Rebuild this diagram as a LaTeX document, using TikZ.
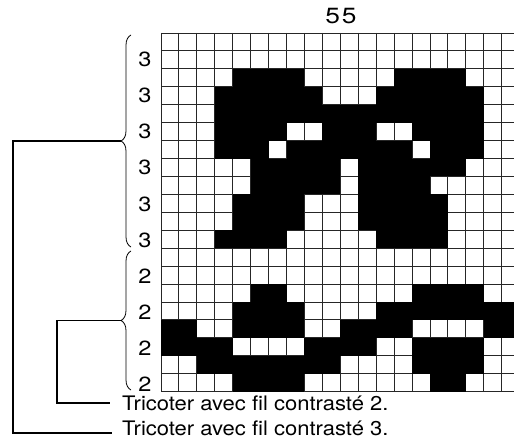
\documentclass[tikz,border=0pt]{standalone}
\usepackage{fontspec}
\setmainfont{TeX Gyre Heros}
\usetikzlibrary{decorations.pathreplacing}
\begin{document}
\begin{tikzpicture}[x=1pt,y=-1pt,
  gridline/.style={line width=0.9pt, black!85},
  cellfill/.style={fill=black},
  bracestyle/.style={decorate, decoration={brace, amplitude=10pt}, line width=0.8pt},
  leader/.style={line width=1.2pt},
  lbl/.style={font=\fontsize{20.5}{20.5}\selectfont, inner sep=0pt, anchor=base},
  txt/.style={font=\fontsize{20}{20}\selectfont, inner sep=0pt, anchor=base west}
]
\def\cs{17.93}
\useasboundingbox (0,0) rectangle (514,441);
\fill[white] (0,0) rectangle (514,441);
\begin{scope}
\clip (0,0) rectangle (514,441);
% grid lines
\foreach \i in {0,...,20}
  \draw[gridline] (161,{33+\i*\cs}) -- (520,{33+\i*\cs});
\foreach \j in {0,...,19}
  \draw[gridline] ({161+\j*\cs},33) -- ({161+\j*\cs},{33+20*\cs});
% black cells: row / {first/last column runs}
\foreach \r/\runs in {
  2/{4/7,13/16},
  3/{3/8,12/17},
  4/{3/17},
  5/{3/6,9/11,14/17},
  6/{3/5,7/13,15/17},
  7/{5/9,11/16},
  8/{5/9,11/14},
  9/{4/7,11/15},
  10/{4/7,11/15},
  11/{3/6,12/15},
  14/{5/6,14/17},
  15/{4/7,12/19},
  16/{0/1,4/7,10/13,18/19},
  17/{0/3,8/11,14/17},
  18/{2/9,14/17},
  19/{4/7,15/16}}{
  \foreach \a/\b in \runs {
    \fill[cellfill] ({161+\a*\cs},{33+\r*\cs}) rectangle ({161+(\b+1)*\cs},{33+(\r+1)*\cs});
  }
}
\end{scope}
% title
\node[lbl, font=\fontsize{22}{22}\selectfont] (title) at (341,24) {\scalebox{1.2}[1]{5\kern1.5pt5}};
% row labels
\foreach \k/\d in {0/3,1/3,2/3,3/3,4/3,5/3,6/2,7/2,8/2,9/2}
  \node[lbl] (n\k) at (145,{67+36*\k}) {\scalebox{1.15}[1]{\d}};
% braces
\draw[bracestyle] (131,247) -- (131,35);
\draw[bracestyle] (131,390) -- (131,251);
\coordinate (tipA) at (121,141);
\coordinate (tipB) at (121,320.5);
% texts
\node[txt] (t2) at (122,410) {\scalebox{1.1}[1]{Tricoter avec fil contrasté 2.}};
\node[txt] (t3) at (122,435) {\scalebox{1.1}[1]{Tricoter avec fil contrasté 3.}};
\coordinate (endB) at (110,403);
\coordinate (endA) at (112,433);
% leaders
\draw[leader] (tipA) -- (13,141) |- (endA);
\draw[leader] (tipB) -- (57,320.5) |- (endB);
\end{tikzpicture}
\end{document}
